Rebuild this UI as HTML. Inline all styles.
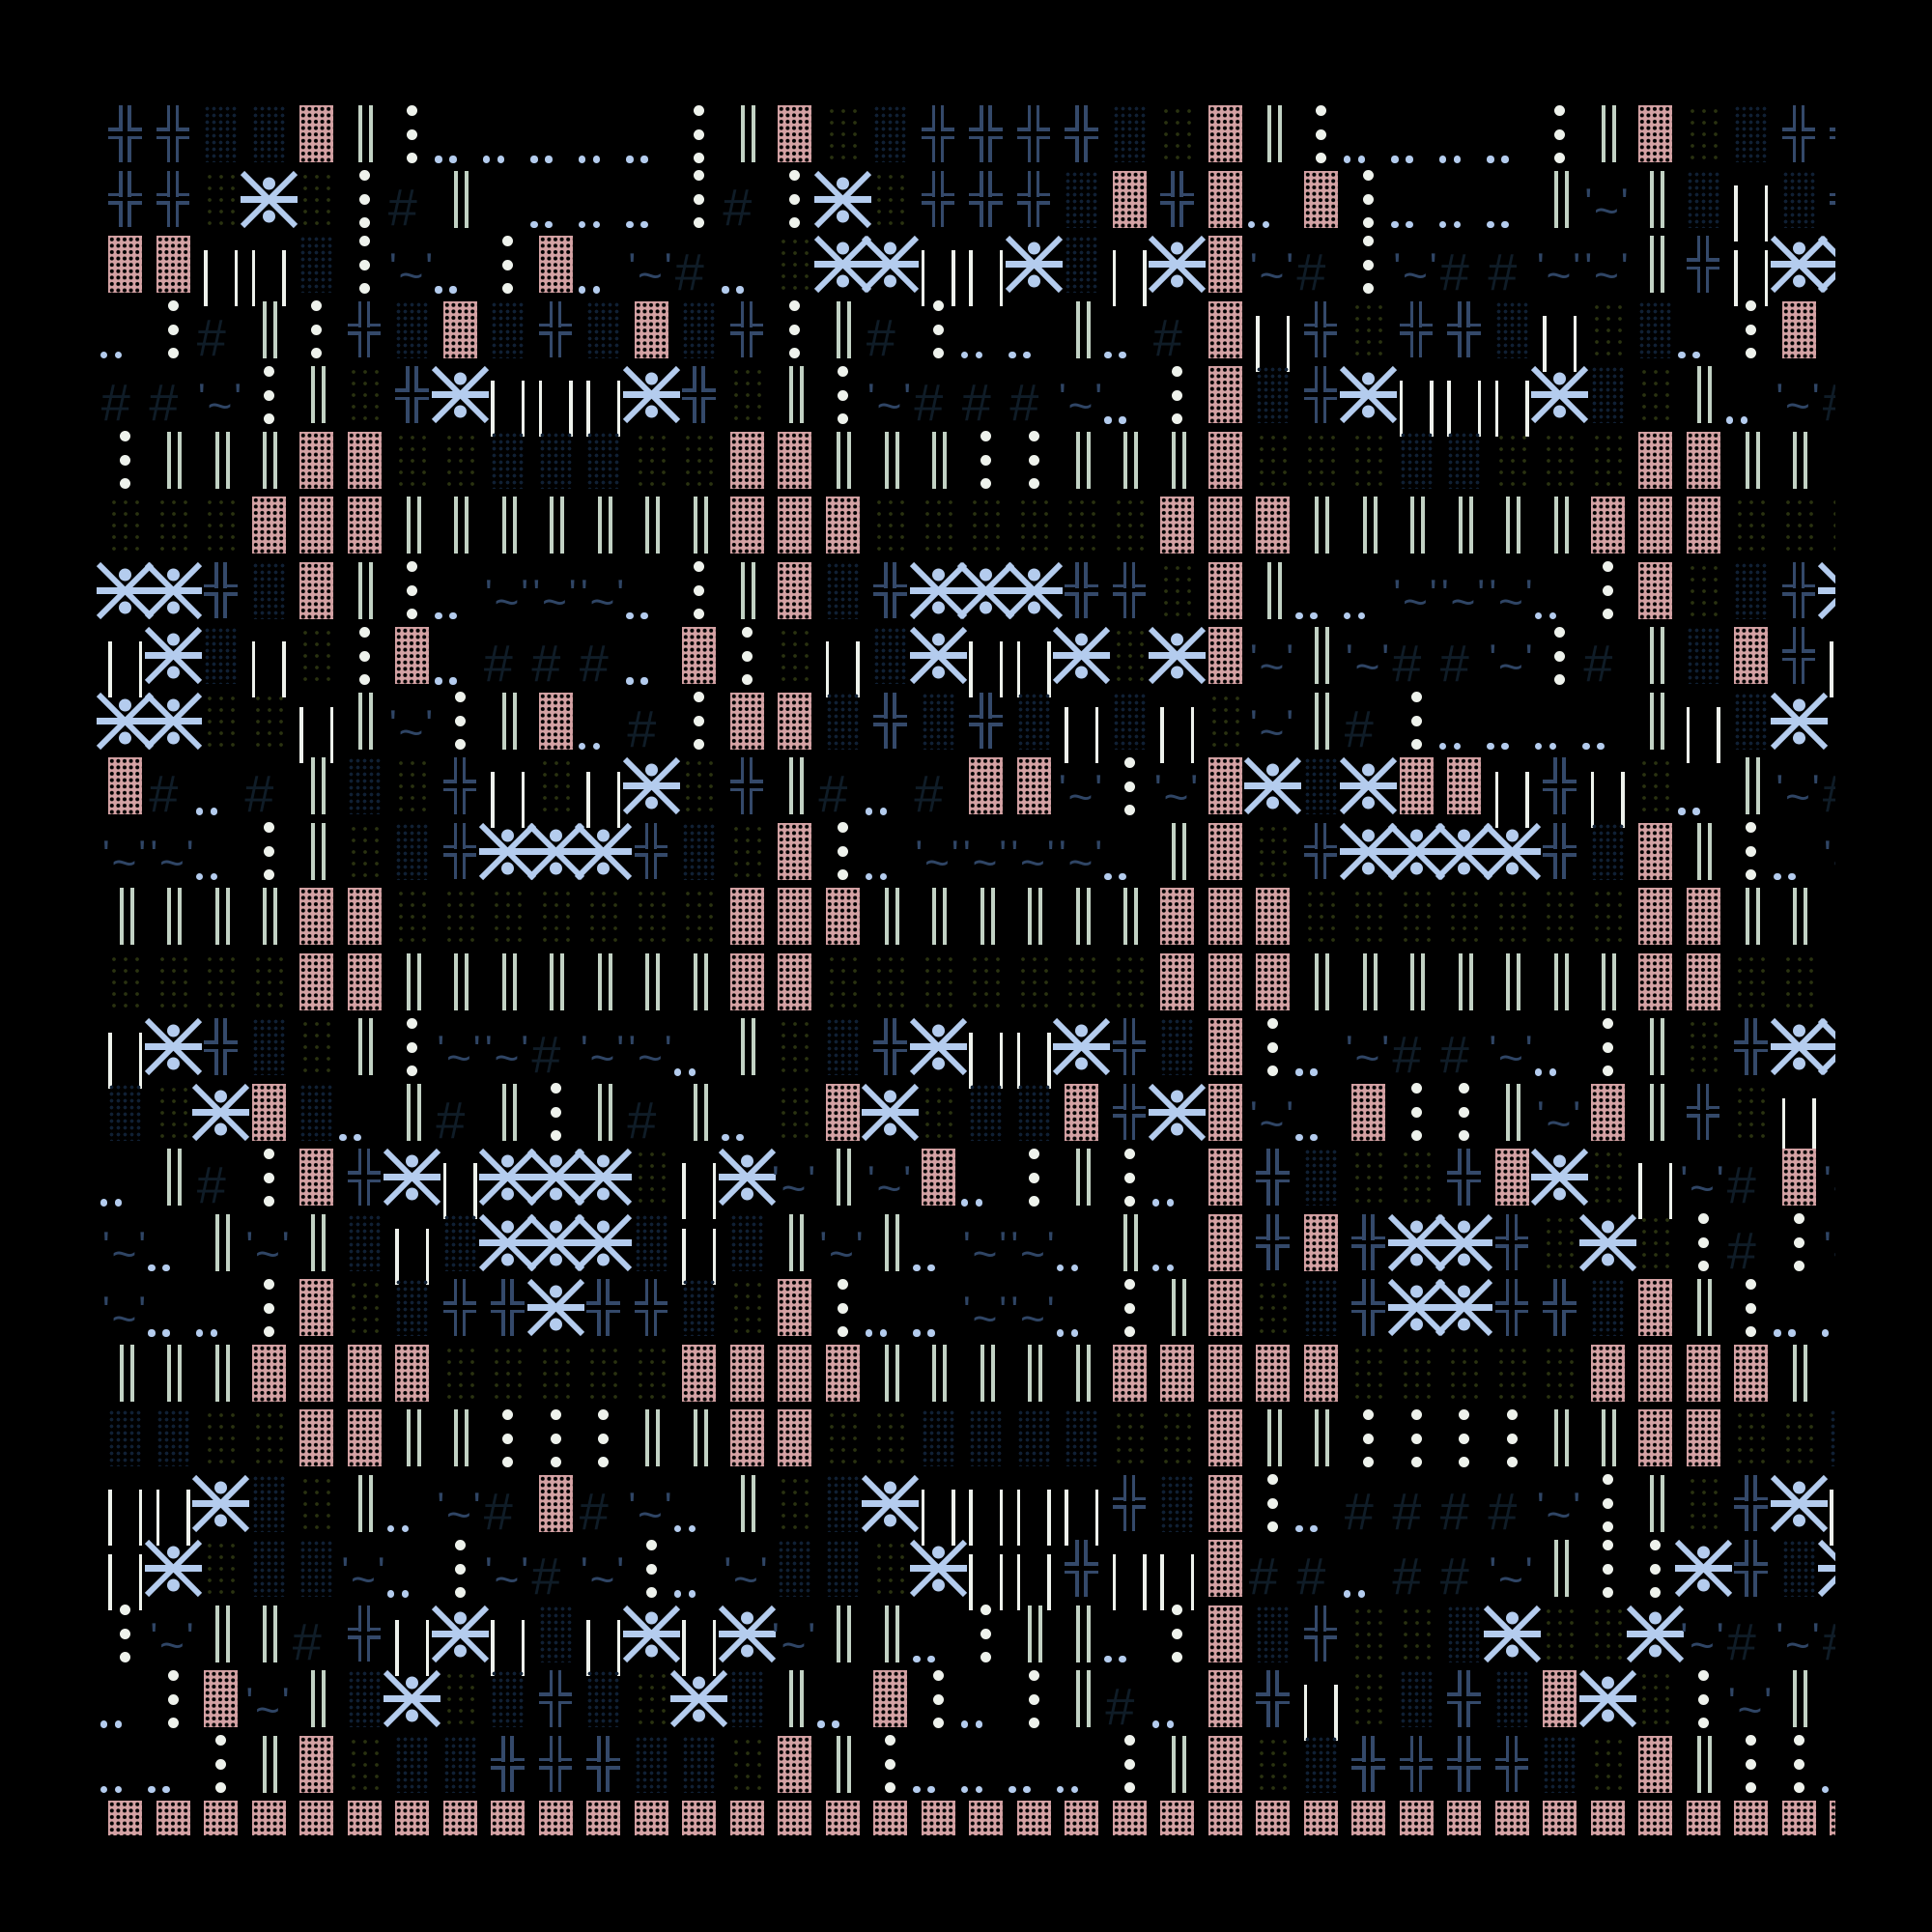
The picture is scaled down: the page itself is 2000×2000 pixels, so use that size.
<!DOCTYPE html>
<html><head><meta charset="utf-8">
<style>
html,body{margin:0;padding:0;background:#000;}
#wrap{position:absolute;left:0;top:0;width:1900px;height:1900px;overflow:hidden;background:#000;}
.c{position:absolute;width:35px;height:59px;}
.P{background:radial-gradient(circle at 50% 50%,#000 0 1.9px,transparent 2.2px) 0.5px 0.5px/6.6px 6.6px,#d4a2a4;}
.D{background:radial-gradient(circle,#102034 0 1.7px,transparent 2px) 0 0/7px 7px;}
.O{background:radial-gradient(circle,#2a3210 0 1.7px,transparent 2px) 0 0/12px 12px;}
.b{position:absolute;}
.hash{position:absolute;left:-20px;top:11px;width:54px;text-align:center;font:italic 54px "Liberation Sans",sans-serif;color:#0f1c27;line-height:54px;}
.til{position:absolute;left:-10px;top:12px;width:55px;text-align:center;font:40px "Liberation Sans",sans-serif;color:#2f4565;line-height:40px;white-space:nowrap;letter-spacing:2px;}
.til span{position:relative;top:10px;font-size:44px;}
</style></head><body>
<div id="wrap"></div>
<script>
var rows=[
"HHDDPVC.....CVPODHHHHDOPVC....CVPODHH",
"HHOSOC#V_...C#CSOHHHDPHP.PC...VTVDWDH",
"PPWWDCT.CP.T#.OSSWWSDWSPT#CT##TTVHWSS",
".C#VCHDPDHDPDHCV#C..V.#PWHOHHDWOD.CP_",
"##TCVOHSWWWSHOVCT###T.CPDHSWWWSDOV.T#",
"CVVVPPOODDDOOPPVVVCCVVVPOOODDOOOPPVV_",
"OOOPPPVVVVVVVPPPOOOOOOPPPVVVVVVPPPOOO",
"SSHDPVC.TTT.CVPDHSSSHHOPV..TTT.CPODHS",
"WSDWOCP.###.PCOWDSWWSOSPTVT##TC#VDPHW",
"SSOOWVTCVP.#CPPDHDHDWDWOTV#C....VWDS_",
"P#.#VDOHWOWSOHV#.#PPTCTPSDSPPWHWO.VT#",
"TT.CVODHSSSHDOPC.TTTT.VPOHSSSSHDPVC.T",
"VVVVPPOOOOOOOPPPVVVVVVPPPOOOOOOOPPVV_",
"OOOOPPVVVVVVVPPOOOOOOOPPPVVVVVVVPPOO_",
"WSHDOVCTT#TT.VODHSWWSHDPC.T##T.CVOHSS",
"DOSPD.V#VCV#V.OPSODDPHSPT.PCCVTPVHOW_",
".V#CPHSWSSSOWSTVTP.CVC.PHDOOHPSOWT#PT",
"T.VTVDWDSSSDWDVTV.TT.V.PHPHSSHOSOC#CT",
"T..CPODHHSHHDOPC..TT.CVPODHSSHHDPVC..",
"VVVPPPPOOOOOPPPPVVVVVPPPPPOOOOOPPPPV_",
"DDOOPPVVCCCVVPPOODDDDOOPVVCCCCVVPPOOD",
"WWSDOV.T#P#T.VODSWWWWHDPC.####TCVOHSW",
"WSODDT.CT#TC.TDDOSWWHWWP##.##TVCCSHDS",
"CTVV#HWSWDWSWSTVV.CVV.CPDHOODSOOST#T#",
".CPTVDSODHDOSDV.PC.CV#.PHWODHDPSOCTV_",
"..CVPODDHHHDDOPVC....CVPODHHHHDOPVCC.",
"PPPPPPPPPPPPPPPPPPPPPPPPPPPPPPPPPPPPP"];
var W=document.getElementById('wrap'),h='';
function bar(x,y,w,hh,col){return '<div class="b" style="left:'+x+'px;top:'+y+'px;width:'+w+'px;height:'+hh+'px;background:'+col+'"></div>';}
function dot(x,y,r,col){return '<div class="b" style="left:'+(x-r)+'px;top:'+(y-r)+'px;width:'+(2*r)+'px;height:'+(2*r)+'px;border-radius:50%;background:'+col+'"></div>';}
for(var r=0;r<rows.length;r++){
 var s=rows[r];
 for(var c=0;c<s.length;c++){
  var t=s[c];if(t=='_')continue;
  var x=112+49.5*c,y=109+67.5*r,inner='',cls='c';
  if(t=='P'||t=='D'||t=='O'){cls+=' '+t;}
  else if(t=='H'){var k='#34496a';inner=bar(11.3,0,3.5,27,k)+bar(20.3,0,3.5,27,k)+bar(11.3,31.7,3.5,27.3,k)+bar(20.3,31.7,3.5,27.3,k)+bar(0,23.3,14.8,3.7,k)+bar(20.3,23.3,14.7,3.7,k)+bar(0,31.7,14.8,3.6,k)+bar(20.3,31.7,14.7,3.6,k);}
  else if(t=='V'){var k='#c2d2c4';inner=bar(11.5,0,4,59,k)+bar(22.5,0,4,59,k);}
  else if(t=='W'){var k='#eef2ec';inner=bar(0,15,3.5,58,k)+bar(31.5,15,3.5,58,k);}
  else if(t=='C'){var k='#eef2ec';inner=dot(17.5,5,5.5,k)+dot(17.5,30,5.5,k)+dot(17.5,54,5.5,k);}
  else if(t=='.'){var k='#b4ccee';inner=dot(-4.5,56,3.6,k)+dot(10.5,56,3.6,k);}
  else if(t=='#'){inner='<div class="hash">#</div>';}
  else if(t=='T'){inner='<div class="til">\'<span>~</span>\'</div>';}
  else if(t=='S'){var k='#b4ccee';inner='<svg class="b" style="left:-12px;top:0;overflow:visible" width="59" height="59"><line x1="0" y1="29.5" x2="59" y2="29.5" stroke="'+k+'" stroke-width="7"/><line x1="2" y1="2" x2="57" y2="57" stroke="'+k+'" stroke-width="6"/><line x1="57" y1="2" x2="2" y2="57" stroke="'+k+'" stroke-width="6"/><circle cx="29.5" cy="13" r="6.5" fill="'+k+'"/><circle cx="29.5" cy="47" r="6.5" fill="'+k+'"/></svg>';}
  h+='<div class="'+cls+'" style="left:'+x+'px;top:'+y+'px">'+inner+'</div>';
 }
}
W.innerHTML=h;
</script>
</body></html>
